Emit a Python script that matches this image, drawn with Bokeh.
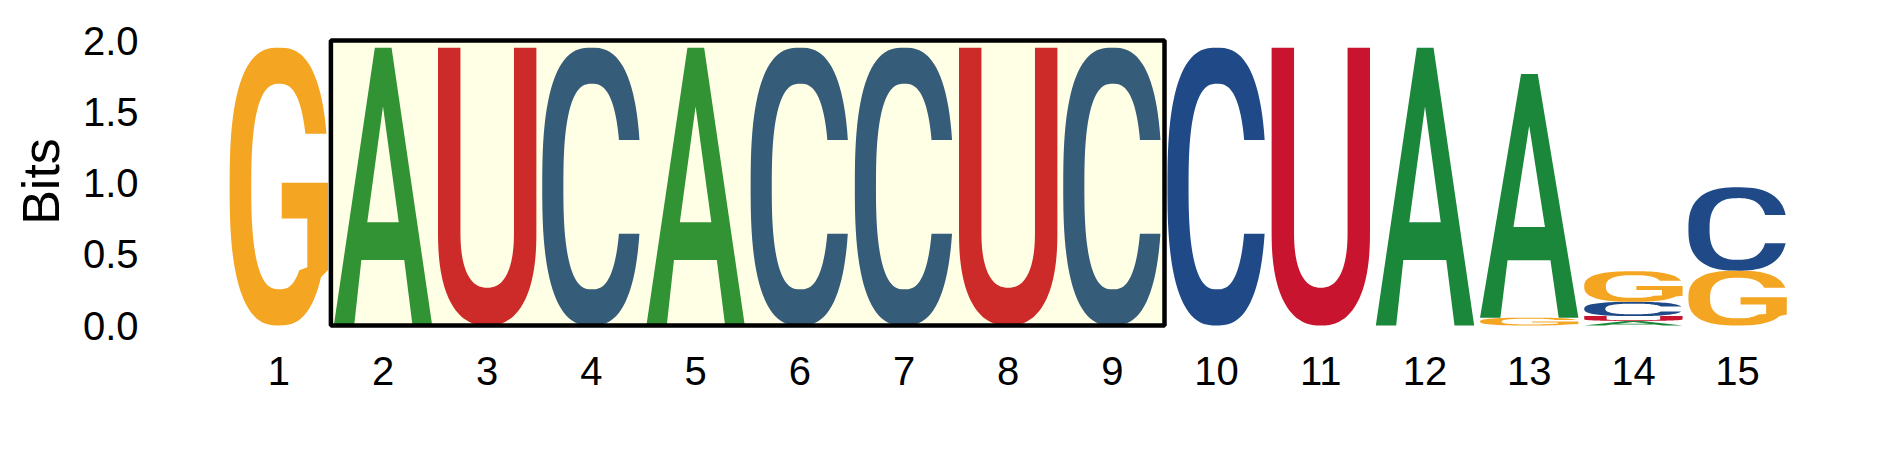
import numpy as np
from bokeh.plotting import figure
from bokeh.models import FixedTicker
from bokeh.embed import file_html
from bokeh.resources import INLINE

# ---------------- data ----------------
positions = list(range(1, 16))
nucleotides = ["A", "C", "G", "U"]
A_bits = [0, 1.95, 0, 0, 1.95, 0, 0, 0, 0, 0, 0, 1.95, 1.71, 0.032, 0]
C_bits = [0, 0, 0, 1.95, 0, 1.95, 1.95, 0, 1.95, 1.95, 0, 0, 0, 0.10, 0.585]
G_bits = [1.95, 0, 0, 0, 0, 0, 0, 0, 0, 0, 0, 0, 0.055, 0.215, 0.385]
U_bits = [0, 0, 1.95, 0, 0, 0, 0, 1.95, 0, 0, 1.95, 0, 0, 0.034, 0]
x_tick_labels = [str(i) for i in positions]
y_ticks = [0.0, 0.5, 1.0, 1.5, 2.0]
y_tick_labels = ["0.0", "0.5", "1.0", "1.5", "2.0"]
highlight_start, highlight_end = 2, 9
max_bits = 2.0

colors = {"A": "#1B873A", "C": "#1F4A87", "G": "#F4A522", "U": "#C8142E"}
bits = {"A": A_bits, "C": C_bits, "G": G_bits, "U": U_bits}

# ------------- letter outlines in a unit box -------------
EXP = 2.6

def sarc(cx, cy, rx, ry, a0, a1, n=90, e=EXP):
    t = np.linspace(a0, a1, n)
    c, s = np.cos(t), np.sin(t)
    x = cx + rx * np.sign(c) * np.abs(c) ** (2 / e)
    y = cy + ry * np.sign(s) * np.abs(s) ** (2 / e)
    return list(zip(x, y))

def t_at(dy, ry, e=EXP):
    return np.arcsin((dy / ry) ** (e / 2))

def shape_A():
    outer = [(0, 0), (0.417, 1), (0.587, 1), (1, 0), (0.80, 0), (0.716, 0.236),
             (0.28, 0.236), (0.207, 0)]
    hole = [(0.34, 0.372), (0.50, 0.788), (0.66, 0.372)]
    return [outer, hole]

def shape_C():
    yt, yb = 0.668, 0.33
    ao0 = t_at(yt - 0.5, 0.5)
    ao1 = 2 * np.pi - t_at(0.5 - yb, 0.5)
    ai0 = t_at(yt - 0.5, 0.37)
    ai1 = 2 * np.pi - t_at(0.5 - yb, 0.37)
    pts = sarc(0.5, 0.5, 0.5, 0.5, ao0, ao1) + sarc(0.505, 0.5, 0.29, 0.37, ai1, ai0)
    return [pts]

def shape_G():
    yt = 0.69
    ao0 = t_at(yt - 0.5, 0.5)
    ao1 = 2 * np.pi - np.radians(35)
    ai0 = t_at(yt - 0.5, 0.37)
    ai1 = 2 * np.pi - np.radians(50)
    pts = sarc(0.5, 0.5, 0.5, 0.5, ao0, ao1)
    pts += [(1.0, 0.2), (1.0, 0.514), (0.53, 0.514), (0.53, 0.385), (0.79, 0.385), (0.79, 0.21)]
    pts += sarc(0.505, 0.5, 0.285, 0.37, ai1, ai0)
    return [pts]

def shape_U():
    r = 0.34
    pts = [(0, 1), (0, r)] + sarc(0.5, r, 0.5, r, np.pi, 2 * np.pi, e=2.4) + [(1, r), (1, 1), (0.772, 1), (0.772, r)]
    pts += sarc(0.5, r, 0.272, r - 0.136, 2 * np.pi, np.pi, e=2.4) + [(0.228, r), (0.228, 1)]
    return [pts]

shapes = {"A": shape_A(), "C": shape_C(), "G": shape_G(), "U": shape_U()}
half_w = 0.472

xs, ys, fills = [], [], []
for i, pos in enumerate(positions):
    col = sorted([(bits[n][i], n) for n in nucleotides if bits[n][i] > 0])
    base = 0.0
    for h, n in col:
        rings_x, rings_y = [], []
        for ring in shapes[n]:
            u = np.array([pt[0] for pt in ring])
            v = np.array([pt[1] for pt in ring])
            rings_x.append(list(pos - half_w + u * 2 * half_w))
            rings_y.append(list(base + v * h))
        xs.append([rings_x])
        ys.append([rings_y])
        fills.append(colors[n])
        base += h

p = figure(width=1881, height=464, x_range=(-0.2313, 16.381), y_range=(-0.1193, 2.1404),
           output_backend="svg", toolbar_location=None,
           min_border_left=150, min_border_right=0, min_border_top=20, min_border_bottom=122)
p.outline_line_color = None
p.grid.visible = False
p.background_fill_color = "white"
p.border_fill_color = "white"

p.multi_polygons(xs=xs, ys=ys, fill_color=fills, line_color=None)

p.quad(left=highlight_start - 0.5, right=highlight_end + 0.5, bottom=0, top=max_bits,
       fill_color="yellow", fill_alpha=0.1, line_color="black", line_width=4.5)

font = "Liberation Sans"
for ax in (p.xaxis[0], p.yaxis[0]):
    ax.axis_line_color = None
    ax.major_tick_line_color = None
    ax.minor_tick_line_color = None
    ax.major_tick_out = 0
    ax.major_tick_in = 0
    ax.major_label_text_font = font
    ax.major_label_text_font_size = "40px"
    ax.major_label_text_color = "black"

p.xaxis.ticker = FixedTicker(ticks=positions)
p.xaxis.major_label_overrides = {pos: lab for pos, lab in zip(positions, x_tick_labels)}
p.xaxis.major_label_standoff = 14
p.yaxis.ticker = FixedTicker(ticks=y_ticks)
p.yaxis.major_label_overrides = {t: lab for t, lab in zip(y_ticks, y_tick_labels)}
p.yaxis.major_label_standoff = 12
p.yaxis.axis_label = "Bits"
p.yaxis.axis_label_text_font = font
p.yaxis.axis_label_text_font_size = "52px"
p.yaxis.axis_label_text_font_style = "normal"
p.yaxis.axis_label_text_color = "black"
p.yaxis.axis_label_standoff = 10

open("out.html", "w").write(file_html(p, INLINE))
